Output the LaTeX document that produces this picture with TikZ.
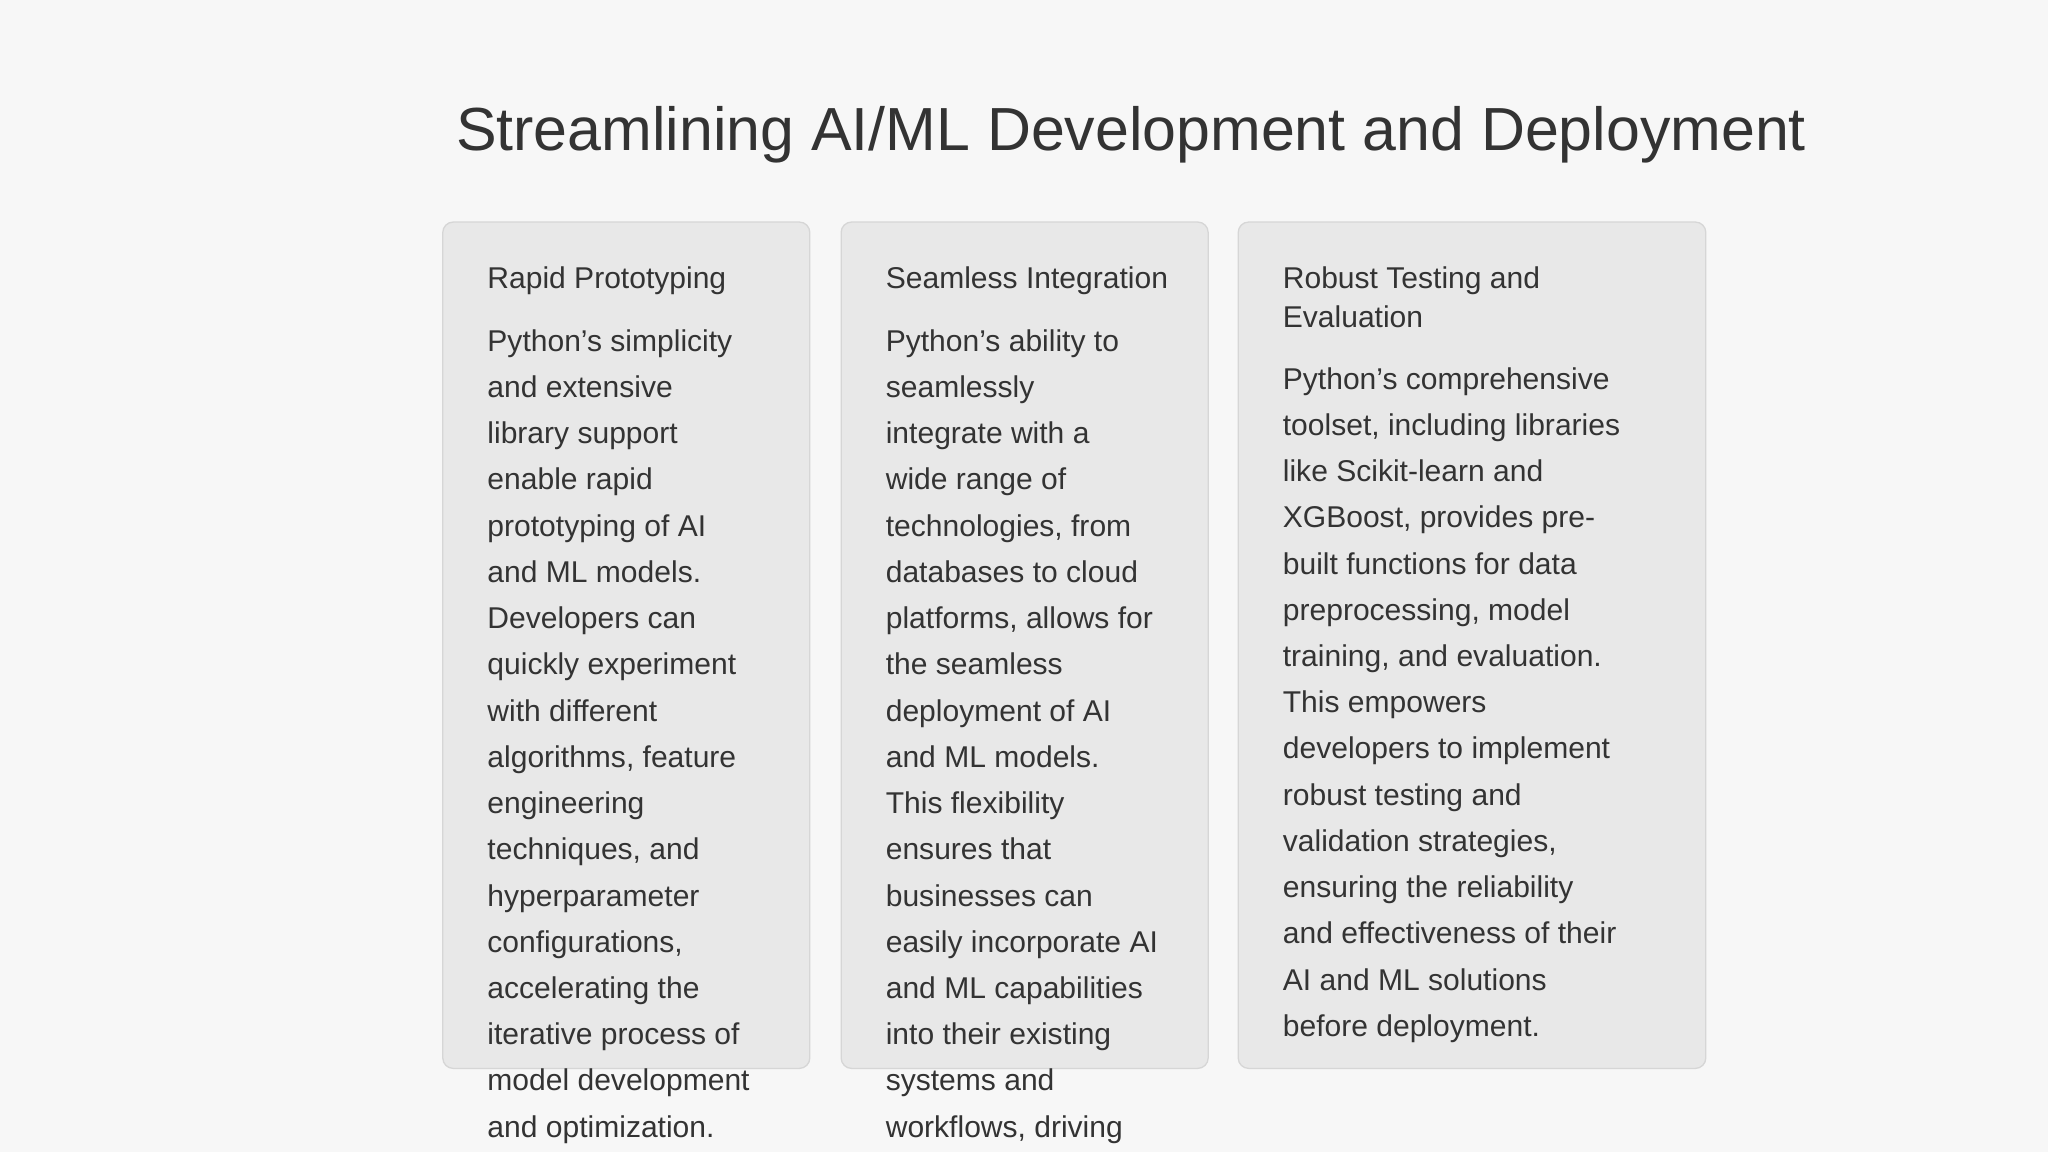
\documentclass[tikz,border=0pt]{standalone}
\usepackage{fontspec}
\setmainfont{Liberation Sans}
\definecolor{bg}{HTML}{F7F7F7}
\definecolor{cardfill}{HTML}{E8E8E8}
\definecolor{cardline}{HTML}{D6D6D6}
\definecolor{ink}{HTML}{333333}
\begin{document}
\begin{tikzpicture}[x=1pt,y=1pt,
  card/.style={draw=cardline,fill=cardfill,rounded corners=8pt,line width=1pt},
  head/.style={anchor=north west,inner sep=0pt,text=ink,align=left,font=\fontsize{23}{30}\selectfont},
  body/.style={anchor=north west,inner sep=0pt,text=ink,align=left,font=\fontsize{23}{35.4}\selectfont}]
\fill[bg] (0,0) rectangle (1568,-882);
\useasboundingbox (0,0) rectangle (1568,-882);
\node[anchor=base,inner sep=0pt,text=ink,font=\fontsize{46.6}{56}\selectfont] (title) at (866,-115) {Streamlining AI/ML Development and Deployment};
\draw[card] (339,-170) rectangle (620,-818);
\draw[card] (644,-170) rectangle (925,-818);
\draw[card] (948,-170) rectangle (1306,-818);
\node[head] (h1) at (373,-204) {\vphantom{Ay}Rapid Prototyping};
\node[body] (b1) at (373,-252) {\vphantom{Ay}Python's simplicity\\and extensive\\library support\\enable rapid\\prototyping of AI\\and ML models.\\Developers can\\quickly experiment\\with different\\algorithms, feature\\engineering\\techniques, and\\hyperparameter\\configurations,\\accelerating the\\iterative process of\\model development\\and optimization.};
\node[head] (h2) at (678,-204) {\vphantom{Ay}Seamless Integration};
\node[body] (b2) at (678,-252) {\vphantom{Ay}Python's ability to\\seamlessly\\integrate with a\\wide range of\\technologies, from\\databases to cloud\\platforms, allows for\\the seamless\\deployment of AI\\and ML models.\\This flexibility\\ensures that\\businesses can\\easily incorporate AI\\and ML capabilities\\into their existing\\systems and\\workflows, driving};
\node[head] (h3) at (982,-204) {\vphantom{Ay}Robust Testing and\\Evaluation};
\node[body] (b3) at (982,-281) {\vphantom{Ay}Python's comprehensive\\toolset, including libraries\\like Scikit-learn and\\XGBoost, provides pre-\\built functions for data\\preprocessing, model\\training, and evaluation.\\This empowers\\developers to implement\\robust testing and\\validation strategies,\\ensuring the reliability\\and effectiveness of their\\AI and ML solutions\\before deployment.};
\end{tikzpicture}
\end{document}
